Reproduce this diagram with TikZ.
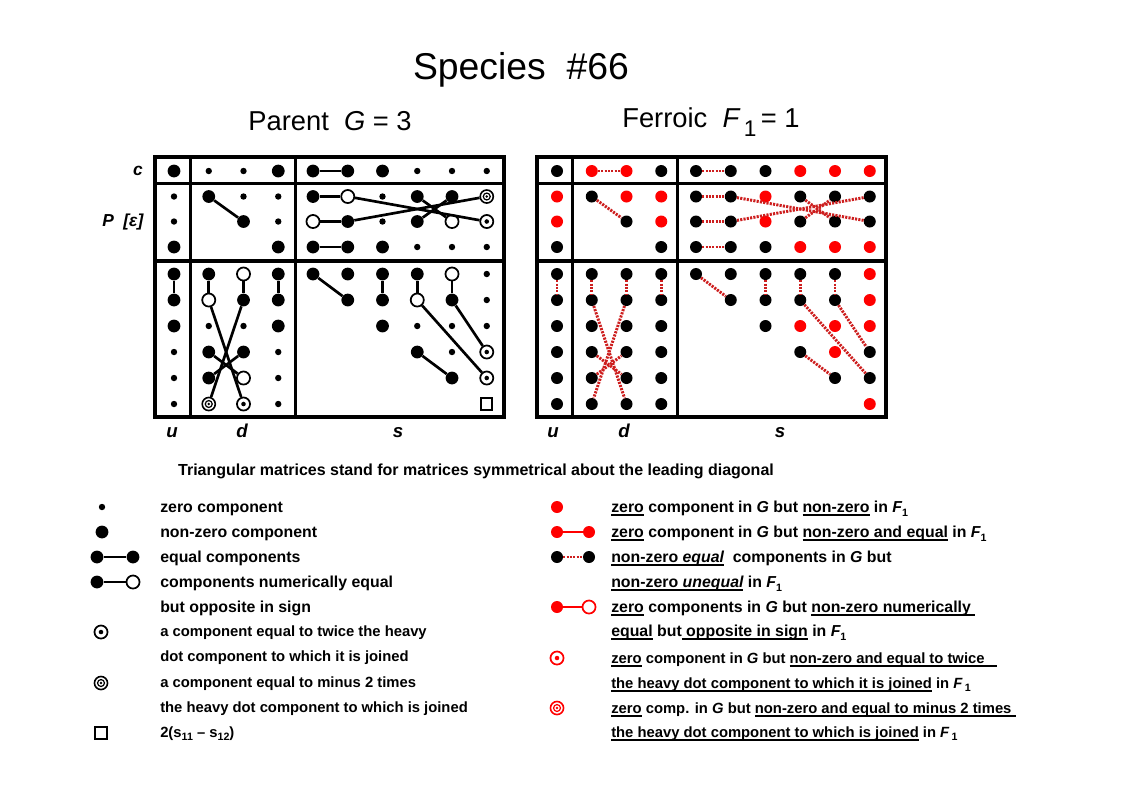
\documentclass[tikz,border=0pt]{standalone}
\usepackage{fontspec}
\setmainfont{Liberation Sans}
\usepackage{tikz}

\definecolor{dashred}{RGB}{205,30,30}
\newsavebox{\ulbox}
\newcommand{\uln}[1]{\sbox\ulbox{#1}\rlap{\rule[-3pt]{\wd\ulbox}{1.2pt}}\usebox\ulbox}
\newcommand{\sbs}[1]{\raisebox{-0.5ex}{\fontsize{8}{9}\selectfont #1}}

\tikzset{
  zd/.style={circle, fill=black, inner sep=0pt, minimum size=4.8pt},
  nzd/.style={circle, fill=#1, inner sep=0pt, minimum size=9.6pt},
  nzd/.default=black,
  bd/.style={nzd, minimum size=9pt},
  rd/.style={nzd=red, minimum size=9pt},
  opd/.style={circle, draw=#1, fill=white, line width=1.3pt, inner sep=0pt, minimum size=9.8pt},
  opd/.default=black,
  twd/.style={opd=#1, path picture={\fill[#1] (path picture bounding box.center) circle (1.7pt);}},
  twd/.default=black,
  mtd/.style={opd=#1, line width=1.2pt, path picture={\draw[#1, line width=0.9pt] (path picture bounding box.center) circle (2.6pt); \fill[#1] (path picture bounding box.center) circle (1pt);}},
  mtd/.default=black,
  sqd/.style={rectangle, draw, fill=white, line width=1.6pt, inner sep=0pt, minimum size=8.4pt},
  nn/.style={inner sep=0pt},
  frame/.style={line width=2.6pt},
  gline/.style={line width=2pt},
  fline/.style={draw=dashred, line width=2.2pt, dash pattern=on 1.6pt off 0.9pt},
  lbl/.style={font=\fontsize{13}{15}\selectfont\bfseries\itshape},
  keytxt/.style={anchor=base west, inner sep=0pt, font=\fontsize{11.9}{13}\selectfont\bfseries},
  keysml/.style={keytxt, font=\fontsize{11.1}{13}\selectfont\bfseries}
}

\begin{document}
\begin{tikzpicture}[x=0.75pt, y=-0.75pt]
\useasboundingbox (0,0) rectangle (1123,794);

% titles
\node (title) at (521,70) {\fontsize{28}{32}\selectfont Species~~\#66};
\node (parent) at (330,121) {\fontsize{20.5}{24}\selectfont Parent~~{\itshape G}~=~3};
\node (ferroic) at (711,122) {\fontsize{20.5}{24}\selectfont Ferroic~~{\itshape F}\,\raisebox{-0.3em}{\fontsize{17}{18}\selectfont 1}\,=~1};

% frames
\foreach \o in {0,382} {
  \draw[frame] (155+\o,157) rectangle (504+\o,417);
  \draw[frame] (190.5+\o,157) -- (190.5+\o,417);
  \draw[frame] (295.5+\o,157) -- (295.5+\o,417);
  \draw[frame] (155+\o,183.5) -- (504+\o,183.5);
  \draw[frame] (155+\o,261) -- (504+\o,261);
}

% row and column labels
\node[lbl] (lc) at (138,171) {c};
\node[lbl, anchor=east] (lp) at (148,222) {P~~[ε]};
\foreach \x/\t [count=\i] in {172/u,242/d,398/s,553/u,624/d,780/s}
  \node[lbl, anchor=base, font=\fontsize{14}{16}\selectfont\bfseries\itshape] (lb\i) at (\x,437) {\t};

% parent G
\foreach \s [count=\c] in {nzd,zd,zd,nzd,nzd,nzd,nzd,zd,zd,zd}
  \node[\s] (g-1-\c) at ({174+34.75*(\c-1)},171) {};
\foreach \s [count=\c] in {zd,nzd,zd,zd,nzd,opd,zd,nzd,nzd,mtd}
  \node[\s] (g-2-\c) at ({174+34.75*(\c-1)},196.5) {};
\foreach \s [count=\c] in {zd,nn,nzd,zd,opd,nzd,zd,nzd,opd,twd}
  \node[\s] (g-3-\c) at ({174+34.75*(\c-1)},221.5) {};
\foreach \s [count=\c] in {nzd,nn,nn,nzd,nzd,nzd,nzd,zd,zd,zd}
  \node[\s] (g-4-\c) at ({174+34.75*(\c-1)},247) {};
\foreach \s [count=\c] in {nzd,nzd,opd,nzd,nzd,nzd,nzd,nzd,opd,zd}
  \node[\s] (g-5-\c) at ({174+34.75*(\c-1)},274) {};
\foreach \s [count=\c] in {nzd,opd,nzd,nzd,nn,nzd,nzd,opd,nzd,zd}
  \node[\s] (g-6-\c) at ({174+34.75*(\c-1)},300) {};
\foreach \s [count=\c] in {nzd,zd,zd,nzd,nn,nn,nzd,zd,zd,zd}
  \node[\s] (g-7-\c) at ({174+34.75*(\c-1)},326) {};
\foreach \s [count=\c] in {zd,nzd,nzd,zd,nn,nn,nn,nzd,zd,twd}
  \node[\s] (g-8-\c) at ({174+34.75*(\c-1)},352) {};
\foreach \s [count=\c] in {zd,nzd,opd,zd,nn,nn,nn,nn,nzd,twd}
  \node[\s] (g-9-\c) at ({174+34.75*(\c-1)},378) {};
\foreach \s [count=\c] in {zd,mtd,twd,zd,nn,nn,nn,nn,nn,sqd}
  \node[\s] (g-10-\c) at ({174+34.75*(\c-1)},404) {};

\foreach \a/\b in {1-5/1-6, 2-2/3-3, 2-5/2-6, 3-5/3-6, 4-5/4-6, 2-6/3-10, 3-6/2-10,
    2-8/3-9, 3-8/2-9, 5-1/6-1, 5-2/6-2, 5-3/6-3, 5-4/6-4, 6-2/10-3, 6-3/10-2,
    8-2/9-3, 9-2/8-3, 5-5/6-6, 5-7/6-7, 5-8/6-8, 5-9/6-9, 6-8/9-10, 6-9/8-10, 8-8/9-9}
  \draw[gline] (g-\a) -- (g-\b);

% ferroic F1
\foreach \s [count=\c] in {bd,rd,rd,bd,bd,bd,bd,rd,rd,rd}
  \node[\s] (f-1-\c) at ({557+34.75*(\c-1)},171) {};
\foreach \s [count=\c] in {rd,bd,rd,rd,bd,bd,rd,bd,bd,bd}
  \node[\s] (f-2-\c) at ({557+34.75*(\c-1)},196.5) {};
\foreach \s [count=\c] in {rd,nn,bd,rd,bd,bd,rd,bd,bd,bd}
  \node[\s] (f-3-\c) at ({557+34.75*(\c-1)},221.5) {};
\foreach \s [count=\c] in {bd,nn,nn,bd,bd,bd,bd,rd,rd,rd}
  \node[\s] (f-4-\c) at ({557+34.75*(\c-1)},247) {};
\foreach \s [count=\c] in {bd,bd,bd,bd,bd,bd,bd,bd,bd,rd}
  \node[\s] (f-5-\c) at ({557+34.75*(\c-1)},274) {};
\foreach \s [count=\c] in {bd,bd,bd,bd,nn,bd,bd,bd,bd,rd}
  \node[\s] (f-6-\c) at ({557+34.75*(\c-1)},300) {};
\foreach \s [count=\c] in {bd,bd,bd,bd,nn,nn,bd,rd,rd,rd}
  \node[\s] (f-7-\c) at ({557+34.75*(\c-1)},326) {};
\foreach \s [count=\c] in {bd,bd,bd,bd,nn,nn,nn,bd,rd,bd}
  \node[\s] (f-8-\c) at ({557+34.75*(\c-1)},352) {};
\foreach \s [count=\c] in {bd,bd,bd,bd,nn,nn,nn,nn,bd,bd}
  \node[\s] (f-9-\c) at ({557+34.75*(\c-1)},378) {};
\foreach \s [count=\c] in {bd,bd,bd,bd,nn,nn,nn,nn,nn,rd}
  \node[\s] (f-10-\c) at ({557+34.75*(\c-1)},404) {};

\foreach \a/\b in {1-2/1-3, 1-5/1-6, 2-2/3-3, 2-5/2-6, 3-5/3-6, 4-5/4-6, 2-6/3-10, 3-6/2-10,
    2-8/3-9, 3-8/2-9, 5-1/6-1, 5-2/6-2, 5-3/6-3, 5-4/6-4, 6-2/10-3, 6-3/10-2,
    8-2/9-3, 9-2/8-3, 5-5/6-6, 5-7/6-7, 5-8/6-8, 5-9/6-9, 6-8/9-10, 6-9/8-10, 8-8/9-9}
  \draw[fline] (f-\a) -- (f-\b);

\node[font=\fontsize{12}{14}\selectfont\bfseries] (note) at (476,471)
  {Triangular matrices stand for matrices symmetrical about the leading diagonal};

% key, parent
\node[zd] (ka) at (102,507) {};
\node[nzd] (kb) at (102,532) {};
\node[nzd] (kc1) at (97,557) {};
\node[nzd] (kc2) at (133,557) {};
\node[nzd] (kd1) at (97,582) {};
\node[opd] (kd2) at (133,582) {};
\node[twd] (ke) at (101,632) {};
\node[mtd] (kf) at (101,683) {};
\node[sqd] (kg) at (101,733) {};
\draw[gline] (kc1) -- (kc2);
\draw[gline] (kd1) -- (kd2);

\foreach \y/\t [count=\i] in {507/zero component, 532/non-zero component,
    557/equal components, 582/components numerically equal, 607/but opposite in sign}
  \node[keytxt] (kt\i) at (160,\y+5) {\t};
\foreach \y/\t [count=\i] in {631/a component equal to twice the heavy,
    656/dot component to which it is joined, 682/a component equal to minus 2 times,
    707/the heavy dot component to which is joined, 732/{2(s\sbs{11} – s\sbs{12})}}
  \node[keysml] (ks\i) at (160,\y+5) {\t};

% key, ferroic
\node[rd] (ra) at (557,507) {};
\node[rd] (rb1) at (557,532) {};
\node[rd] (rb2) at (589,532) {};
\node[bd] (rc1) at (557,557) {};
\node[bd] (rc2) at (589,557) {};
\node[rd] (re1) at (557,607) {};
\node[opd=red] (re2) at (589,607) {};
\node[twd=red] (rf) at (557,658) {};
\node[mtd=red] (rg) at (557,708) {};
\draw[red, line width=2pt] (rb1) -- (rb2);
\draw[fline] (rc1) -- (rc2);
\draw[red, line width=2pt] (re1) -- (re2);

\node[keytxt] (rt1) at (611,512) {\uln{zero} component in {\itshape G} but \uln{non-zero} in {\itshape F}\sbs{1}};
\node[keytxt] (rt2) at (611,537) {\uln{zero} component in {\itshape G} but \uln{non-zero and equal} in {\itshape F}\sbs{1}};
\node[keytxt] (rt3) at (611,562) {\uln{non-zero {\itshape equal}}~~components in {\itshape G} but};
\node[keytxt] (rt4) at (611,587) {\uln{non-zero {\itshape unequal}} in {\itshape F}\sbs{1}};
\node[keytxt] (rt5) at (611,612) {\uln{zero} components in {\itshape G} but \uln{non-zero numerically~}};
\node[keytxt] (rt6) at (611,636) {\uln{equal} but\uln{~opposite in sign} in {\itshape F}\sbs{1}};
\node[keysml] (rt7) at (611,663) {\uln{zero} component in {\itshape G} but \uln{non-zero and equal to twice~~~}};
\node[keysml] (rt8) at (611,688) {\uln{the heavy dot component to which it is joined} in {\itshape F}\,\sbs{1}};
\node[keysml] (rt9) at (611,713) {\uln{zero} comp. in {\itshape G} but \uln{non-zero and equal to minus 2 times~}};
\node[keysml] (rt10) at (611,737) {\uln{the heavy dot component to which is joined} in {\itshape F}\,\sbs{1}};
\end{tikzpicture}
\end{document}
